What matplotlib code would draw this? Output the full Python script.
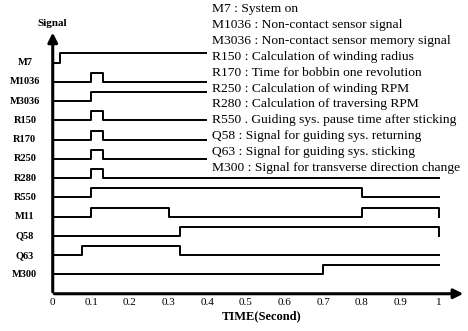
import matplotlib
matplotlib.use("Agg")
import matplotlib.pyplot as plt
from matplotlib.patches import Rectangle

plt.rcParams["font.family"] = ["Liberation Serif", "DejaVu Serif"]

# signal names, top to bottom
names = ["M7", "M1036", "M3036", "R150", "R170", "R250",
         "R280", "R550", "M11", "Q58", "Q63", "M300"]

# toggle times (seconds) for each signal, every signal starts low
m7 = [0.02]
m1036 = [0.10, 0.13]
m3036 = [0.10]
r150 = [0.10, 0.13]
r170 = [0.10, 0.13]
r250 = [0.10, 0.13]
r280 = [0.10, 0.13]
r550 = [0.10, 0.80]
m11 = [0.10, 0.30, 0.80, 1.0]
q58 = [0.33, 1.0]
q63 = [0.075, 0.33]
m300 = [0.70]
toggles = [m7, m1036, m3036, r150, r170, r250, r280, r550, m11, q58, q63, m300]

legend_lines = [
    "M7 : System on",
    "M1036 : Non-contact sensor signal",
    "M3036 : Non-contact sensor memory signal",
    "R150 : Calculation of winding radius",
    "R170 : Time for bobbin one revolution",
    "R250 : Calculation of winding RPM",
    "R280 : Calculation of traversing RPM",
    "R550 . Guiding sys. pause time after sticking",
    "Q58 : Signal for guiding sys. returning",
    "Q63 : Signal for guiding sys. sticking",
    "M300 : Signal for transverse direction change",
]

xticks = [0, 0.1, 0.2, 0.3, 0.4, 0.5, 0.6, 0.7, 0.8, 0.9, 1]
xticklabels = ["0", "0.1", "0.2", "0.3", "0.4", "0.5", "0.6", "0.7", "0.8", "0.9", "1"]

W, H = 468, 331
fig = plt.figure(figsize=(W / 100, H / 100), dpi=100)
ax = fig.add_axes([45 / W, 1 - 297.6 / H, (W - 45) / W, 273.6 / H])
ax.set_xlim(-0.02, 1.075)
ax.set_ylim(12.2, -2.0)
ax.axis("off")

amp = 0.47
for i, tg in enumerate(toggles):
    xs = [0.0] + tg
    ys = [i - amp * (k % 2) for k in range(len(xs))]
    if xs[-1] < 1.0:
        xs.append(1.0)
        ys.append(ys[-1])
    ax.step(xs, ys, where="post", color="black", lw=1.4)
    ax.text(-0.072, i, names[i], ha="center", va="center", fontsize=7.5,
            fontweight="bold", clip_on=False)

# axes with arrows
ax.annotate("", xy=(1.07, 12), xytext=(-0.003, 12),
            arrowprops=dict(arrowstyle="-|>", color="black", lw=2.2, mutation_scale=14))
ax.annotate("", xy=(0, -1.7), xytext=(0, 12.05),
            arrowprops=dict(arrowstyle="-|>", color="black", lw=2.2, mutation_scale=14))
for xt, lab in zip(xticks, xticklabels):
    ax.text(xt, 12.45, lab, ha="center", va="center", fontsize=8)

# legend area covers the ends of the upper signal lines
ax.add_patch(Rectangle((0.40, -2.5), 0.7, 8.1, facecolor="white",
                       edgecolor="none", zorder=5, clip_on=False))
for j, line in enumerate(legend_lines):
    fig.text(212 / W, 1 - (9 + 15.9 * j) / H, line, ha="left", va="center",
             fontsize=9.7, zorder=6)

fig.text(52 / W, 1 - 23 / H, "Signal", ha="center", va="center",
         fontsize=8, fontweight="bold")
fig.text(262 / W, 1 - 316 / H, "TIME(Second)", ha="center", va="center",
         fontsize=9, fontweight="bold")

fig.savefig("out.png", dpi=100)
